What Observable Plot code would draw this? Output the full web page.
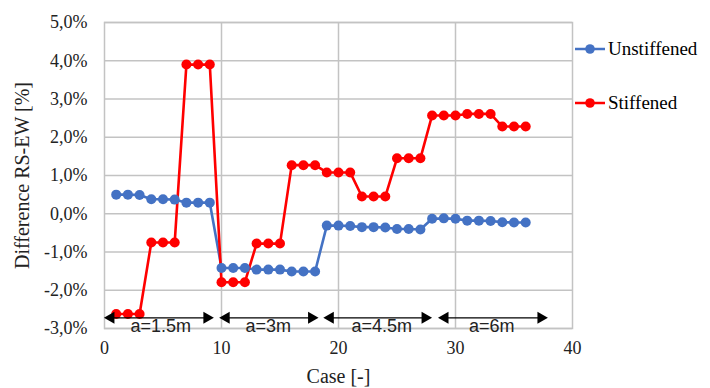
<!DOCTYPE html>
<html>
<head>
<meta charset="utf-8">
<script src="https://cdn.jsdelivr.net/npm/d3@7"></script>
<script src="https://cdn.jsdelivr.net/npm/@observablehq/plot@0.6"></script>
<style>
  body { margin: 0; background: #fff; }
  #wrap { position: relative; width: 710px; height: 388px; }
  #wrap svg text.serif, #wrap svg g.serif text { font-family: "Liberation Serif", serif !important; }
  .leg { position: absolute; left: 574px; font-family: "Liberation Serif", serif; font-size: 19px; color: #000; display: flex; align-items: center; }
  .leg svg { margin-right: 2px; }
</style>
</head>
<body>
<div id="wrap"></div>
<script>
const cases = d3.range(1, 37);
const unstiffened = [0.50,0.50,0.49, 0.38,0.38,0.37, 0.29,0.29,0.29,
  -1.42,-1.42,-1.42, -1.46,-1.46,-1.46, -1.51,-1.51,-1.51,
  -0.31,-0.31,-0.32, -0.35,-0.35,-0.36, -0.40,-0.40,-0.41,
  -0.13,-0.12,-0.13, -0.18,-0.18,-0.19, -0.22,-0.23,-0.23];
const stiffened = [-2.62,-2.62,-2.62, -0.75,-0.75,-0.75, 3.90,3.90,3.90,
  -1.79,-1.79,-1.79, -0.78,-0.78,-0.78, 1.27,1.27,1.27,
  1.08,1.08,1.08, 0.45,0.45,0.45, 1.45,1.45,1.45,
  2.57,2.57,2.57, 2.61,2.61,2.61, 2.28,2.28,2.28];
const seriesNames = ["Unstiffened", "Stiffened"];
const seriesColors = ["#4472C4", "#FF0000"];
const yTicks = [-3, -2, -1, 0, 1, 2, 3, 4, 5];
const xTicks = [0, 10, 20, 30, 40];
const groupLabels = ["a=1.5m", "a=3m", "a=4.5m", "a=6m"];
const groupStart = [0.25, 10.1, 19.0, 28.8];
const groupEnd = [9.05, 18.0, 27.7, 37.6];
const groupLabelX = [4.8, 14.0, 23.7, 33.1];
const arrowY = -2.72;
const labelY = -2.94;

const rows = [];
cases.forEach((c, i) => {
  rows.push({case: c, value: unstiffened[i], series: seriesNames[0]});
});
cases.forEach((c, i) => {
  rows.push({case: c, value: stiffened[i], series: seriesNames[1]});
});
const groups = groupLabels.map((l, i) => ({label: l, x1: groupStart[i], x2: groupEnd[i], lx: groupLabelX[i]}));
const heads = groups.flatMap(g => [{x: g.x1 + 0.3, r: -90}, {x: g.x2 - 0.3, r: 90}]);

const gridColor = "#c3c3c3";
const serif = "'Liberation Serif', serif";
const fmt = d => d.toFixed(1).replace(".", ",") + "%";

const chart = Plot.plot({
  width: 710,
  height: 388,
  marginLeft: 104,
  marginRight: 138,
  marginTop: 22,
  marginBottom: 60,
  style: {fontFamily: serif, fontSize: "16px", color: "#222"},
  x: {domain: [0, 40]},
  y: {domain: [-3, 5]},
  color: {domain: seriesNames, range: seriesColors},
  marks: [
    Plot.gridY(yTicks, {stroke: gridColor, strokeOpacity: 1, strokeWidth: 1.5}),
    Plot.ruleX([10, 20, 30], {stroke: gridColor, strokeWidth: 1.5}),
    Plot.frame({stroke: gridColor, strokeWidth: 1.5}),
    Plot.line(rows, {x: "case", y: "value", z: "series", stroke: "series", strokeWidth: 2.6}),
    Plot.dot(rows, {x: "case", y: "value", fill: "series", r: 5, stroke: null}),
    Plot.link(groups, {x1: "x1", x2: "x2", y1: arrowY, y2: arrowY, stroke: "#000", strokeWidth: 1.2}),
    Plot.dot(heads, {x: "x", y: arrowY, symbol: "triangle", rotate: "r", fill: "#000", r: 4.5, stroke: null}),
    Plot.text(groups, {x: "lx", y: labelY, text: "label", fontFamily: "Liberation Sans, sans-serif", fontSize: 18, fill: "#222"}),
    Plot.axisX({ticks: xTicks, tickSize: 0, tickPadding: 13, tickFormat: d => String(d), fontSize: 18, fill: "#222",
      label: "Case [-]", labelAnchor: "center", labelArrow: "none", labelOffset: 54}),
    Plot.axisY({ticks: yTicks, tickSize: 0, tickPadding: 17, tickFormat: fmt, fontSize: 18, fill: "#222",
      label: "Difference RS-EW [%]", labelAnchor: "center", labelArrow: "none", labelOffset: 90})
  ]
});
document.getElementById("wrap").appendChild(chart);

d3.select(chart).selectAll("g[aria-label^='x-axis'], g[aria-label^='y-axis']").classed("serif", true);
d3.select(chart).selectAll("[aria-label='x-axis label'], [aria-label='y-axis label']")
  .style("font-size", "20px").attr("fill", "#222");

// legend
const wrap = document.getElementById("wrap");
const legTops = [38, 92];
seriesNames.forEach((name, i) => {
  const d = document.createElement("div");
  d.className = "leg";
  d.style.top = legTops[i] + "px";
  d.innerHTML = `<svg width="32" height="20"><line x1="1" y1="10" x2="31" y2="10" stroke="${seriesColors[i]}" stroke-width="2.5"/><circle cx="16" cy="10" r="4.8" fill="${seriesColors[i]}"/></svg><span>${name}</span>`;
  wrap.appendChild(d);
});
</script>
</body>
</html>
